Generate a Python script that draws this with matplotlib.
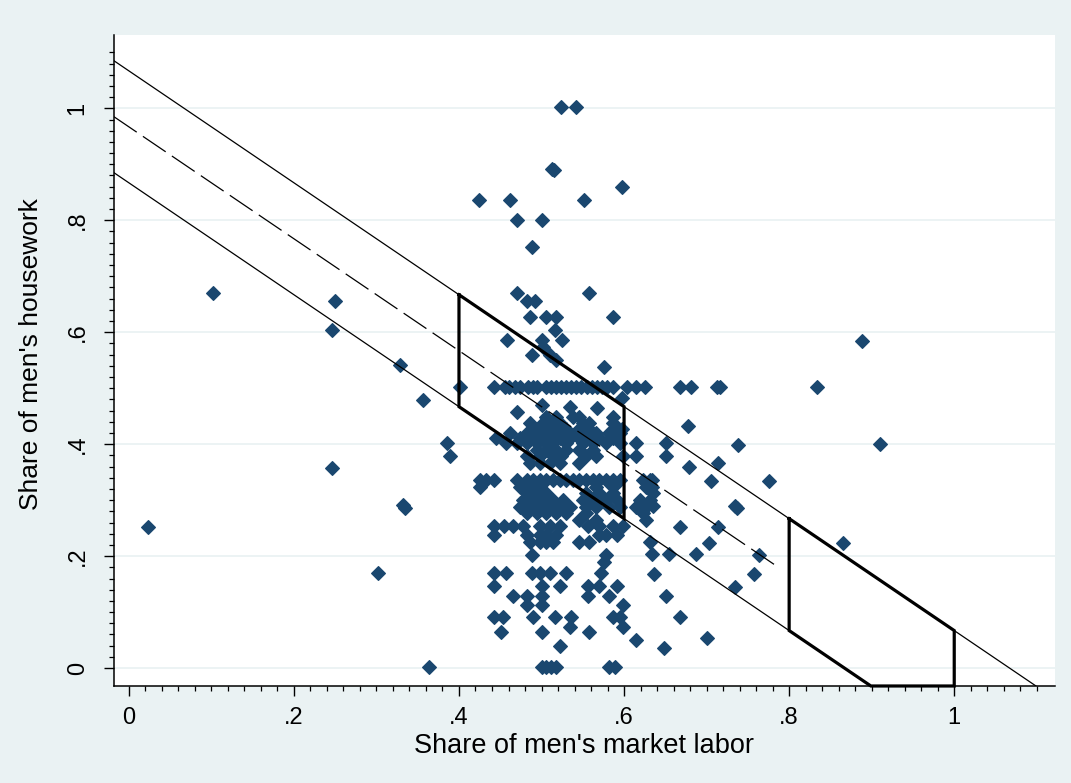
import matplotlib
matplotlib.use("Agg")
import matplotlib.pyplot as plt
from matplotlib.ticker import FixedLocator
import numpy as np

plt.rcParams['font.family'] = ['Liberation Sans', 'DejaVu Sans']

# ---------------- data ----------------
pts_outer = [
    (0.023, 0.252), (0.102, 0.670), (0.250, 0.656), (0.246, 0.604), (0.246, 0.358),
    (0.302, 0.170), (0.328, 0.541), (0.357, 0.479), (0.332, 0.292), (0.334, 0.286),
    (0.364, 0.002), (0.385, 0.402), (0.389, 0.378), (0.401, 0.502),
    (0.834, 0.502), (0.888, 0.585), (0.910, 0.400), (0.865, 0.224), (0.776, 0.335),
    (0.738, 0.398), (0.677, 0.433), (0.668, 0.502), (0.681, 0.502), (0.713, 0.502),
    (0.716, 0.502), (0.651, 0.378), (0.679, 0.360), (0.714, 0.366), (0.705, 0.335),
    (0.634, 0.336), (0.634, 0.324), (0.635, 0.289), (0.735, 0.290), (0.737, 0.286),
    (0.668, 0.252), (0.714, 0.252), (0.703, 0.224), (0.634, 0.204), (0.655, 0.204),
    (0.687, 0.204), (0.764, 0.202), (0.636, 0.168), (0.757, 0.168), (0.734, 0.145),
    (0.651, 0.128), (0.668, 0.092), (0.701, 0.054), (0.648, 0.036),
]
pts_top = [
    (0.524, 1.003), (0.542, 1.003), (0.513, 0.891), (0.515, 0.889), (0.597, 0.860),
    (0.424, 0.836), (0.462, 0.836), (0.552, 0.836), (0.470, 0.800), (0.500, 0.800),
    (0.489, 0.753), (0.470, 0.670), (0.557, 0.670), (0.482, 0.655), (0.492, 0.655),
    (0.486, 0.628), (0.506, 0.628), (0.518, 0.628), (0.587, 0.628), (0.516, 0.604),
    (0.458, 0.586), (0.500, 0.586), (0.525, 0.586), (0.502, 0.574), (0.488, 0.559),
    (0.510, 0.559), (0.518, 0.550), (0.576, 0.537),
    (0.597, 0.482), (0.500, 0.470), (0.534, 0.467), (0.567, 0.464), (0.470, 0.458),
]
# rows of the dense cluster: (y value, list of x values)
rows = [
    (0.502, [0.443, 0.456, 0.461, 0.468, 0.474, 0.484, 0.490, 0.494, 0.506, 0.512, 0.518,
             0.524, 0.530, 0.536, 0.542, 0.548, 0.555, 0.561, 0.567, 0.573, 0.579, 0.587,
             0.603, 0.615, 0.625]),
    (0.449, [0.506, 0.518, 0.538, 0.546, 0.587]),
    (0.437, [0.486, 0.502, 0.510, 0.522, 0.550, 0.558, 0.587]),
    (0.428, [0.494, 0.506, 0.514, 0.530, 0.546, 0.558, 0.591, 0.597]),
    (0.420, [0.462, 0.482, 0.490, 0.498, 0.506, 0.518, 0.530, 0.542, 0.554, 0.566, 0.582, 0.595]),
    (0.411, [0.445, 0.474, 0.486, 0.498, 0.510, 0.522, 0.534, 0.546, 0.558, 0.570, 0.587]),
    (0.402, [0.457, 0.470, 0.482, 0.494, 0.506, 0.514, 0.530, 0.550, 0.562, 0.578, 0.595, 0.615, 0.651]),
    (0.390, [0.494, 0.506, 0.518, 0.530, 0.546, 0.562]),
    (0.378, [0.482, 0.498, 0.514, 0.524, 0.554, 0.566, 0.599, 0.615]),
    (0.367, [0.486, 0.498, 0.510, 0.522, 0.546]),
    (0.336, [0.425, 0.433, 0.443, 0.470, 0.482, 0.490, 0.498, 0.506, 0.514, 0.522, 0.530,
             0.538, 0.546, 0.554, 0.562, 0.570, 0.578, 0.587, 0.595, 0.623, 0.631]),
    (0.324, [0.425, 0.474, 0.486, 0.498, 0.566, 0.587, 0.627]),
    (0.312, [0.482, 0.494, 0.506, 0.554, 0.570, 0.587, 0.635]),
    (0.300, [0.478, 0.490, 0.502, 0.514, 0.526, 0.550, 0.562, 0.578, 0.591, 0.619, 0.631]),
    (0.288, [0.474, 0.486, 0.498, 0.510, 0.522, 0.534, 0.554, 0.566, 0.582, 0.595, 0.615, 0.627]),
    (0.277, [0.482, 0.494, 0.506, 0.518, 0.530, 0.554, 0.623]),
    (0.265, [0.546, 0.566, 0.627]),
    (0.253, [0.443, 0.455, 0.466, 0.478, 0.498, 0.510, 0.522, 0.556, 0.570, 0.587, 0.599]),
    (0.238, [0.443, 0.482, 0.498, 0.506, 0.518, 0.570, 0.578, 0.591]),
    (0.226, [0.486, 0.498, 0.506, 0.514, 0.546, 0.558, 0.631]),
    (0.202, [0.488, 0.578]),
    (0.190, [0.576]),
    (0.170, [0.443, 0.457, 0.488, 0.498, 0.510, 0.530, 0.572]),
    (0.146, [0.443, 0.500, 0.522, 0.556, 0.570, 0.591]),
    (0.128, [0.466, 0.482, 0.500, 0.556, 0.582]),
    (0.113, [0.482, 0.500, 0.599]),
    (0.092, [0.443, 0.453, 0.490, 0.516, 0.536, 0.587, 0.595]),
    (0.074, [0.534, 0.599]),
    (0.065, [0.451, 0.500, 0.558]),
    (0.050, [0.615]),
    (0.039, [0.522]),
    (0.002, [0.500, 0.506, 0.512, 0.518, 0.582, 0.589]),
]

# reference lines (slope -1) and highlighted boxes
line_upper_icpt = 1.067
line_mid_icpt = 0.967
line_lower_icpt = 0.867
line_mid_end = 0.787
line_lower_end = 0.80
box_ranges = [(0.4, 0.6), (0.8, 1.0)]

xticks = [0, 0.2, 0.4, 0.6, 0.8, 1.0]
xtick_labels = ['0', '.2', '.4', '.6', '.8', '1']
yticks = [0, 0.2, 0.4, 0.6, 0.8, 1.0]
ytick_labels = ['0', '.2', '.4', '.6', '.8', '1']

# ---------------- assemble ----------------
xs = [p[0] for p in pts_outer + pts_top]
ys = [p[1] for p in pts_outer + pts_top]
for yv, xl in rows:
    xs.extend(xl)
    ys.extend([yv] * len(xl))

bg = '#eaf2f3'
navy = '#1a476f'

fig = plt.figure(figsize=(10.71, 7.83), dpi=100, facecolor=bg)
ax = fig.add_axes([0.1064, 0.1239, 0.8786, 0.8314])
ax.set_facecolor('white')
xmin, xmax = -0.018, 1.122
ymin, ymax = -0.032, 1.131
ax.set_xlim(xmin, xmax)
ax.set_ylim(ymin, ymax)

# grid
for yv in yticks:
    ax.axhline(yv, color=bg, lw=1.3, zorder=0)

ax.plot(xs, ys, ls='', marker='D', ms=6.8, color=navy, mec=navy, mew=0.8, zorder=3)

# lines
lx = np.array([xmin, line_upper_icpt - ymin])
ax.plot(lx, line_upper_icpt - lx, color='black', lw=0.9, zorder=4)
lx = np.array([xmin, line_mid_end])
ax.plot(lx, line_mid_icpt - lx, color='black', lw=0.9, dashes=(22, 6), zorder=4)
lx = np.array([xmin, line_lower_end])
ax.plot(lx, line_lower_icpt - lx, color='black', lw=0.9, zorder=4)

# boxes
for a, b in box_ranges:
    px = [a, b, b]
    py = [line_upper_icpt - a, line_upper_icpt - b, max(line_lower_icpt - b, ymin)]
    if line_lower_icpt - b < ymin:
        xc = line_lower_icpt - ymin
        px.append(xc); py.append(ymin)
    px.append(a); py.append(line_lower_icpt - a)
    px.append(a); py.append(line_upper_icpt - a)
    ax.plot(px, py, color='black', lw=2.3, solid_joinstyle='miter', zorder=5, clip_on=False)

# axes styling
for s in ['top', 'right']:
    ax.spines[s].set_visible(False)
for s in ['left', 'bottom']:
    ax.spines[s].set_linewidth(1.1)
    ax.spines[s].set_color('black')

ax.xaxis.set_major_locator(FixedLocator(xticks))
ax.yaxis.set_major_locator(FixedLocator(yticks))
minor = [round(i * 0.02, 2) for i in range(0, 56)]
ax.xaxis.set_minor_locator(FixedLocator(minor))
ax.yaxis.set_minor_locator(FixedLocator(minor))
ax.set_xticklabels(xtick_labels)
ax.set_yticklabels(ytick_labels, rotation=90, va='center')
ax.tick_params(which='major', length=7.2, width=1.0, labelsize=17, pad=8, color='black')
ax.tick_params(axis='y', which='major', pad=11)
ax.tick_params(which='minor', length=3.6, width=0.9, color='black')

ax.set_xlabel("Share of men's market labor", fontsize=19.5)
ax.set_ylabel("Share of men's housework", fontsize=19)
ax.xaxis.set_label_coords(0.5, -0.072)
ax.yaxis.set_label_coords(-0.075, 0.51)

fig.savefig('out.png', dpi=100, facecolor=bg)
